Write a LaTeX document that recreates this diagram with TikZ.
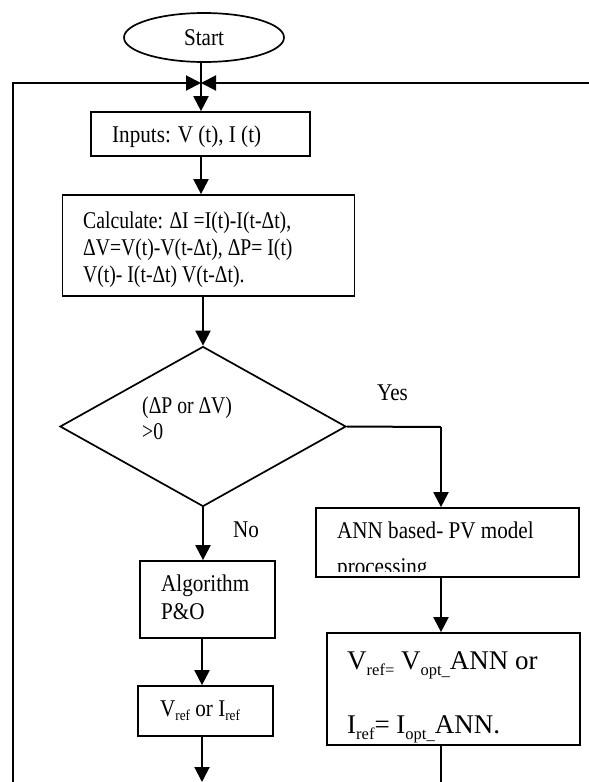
\documentclass[tikz,border=0pt]{standalone}
\usepackage{fontspec}
\setmainfont{Liberation Serif}[FakeStretch=0.88]
\newfontfamily\wideserif{Liberation Serif}
\newfontfamily\narrowserif{Liberation Serif}[FakeStretch=0.82]
\usetikzlibrary{arrows.meta,shapes.geometric}
\newcommand{\ssub}[1]{\raisebox{-4pt}{\fontsize{15}{15}\selectfont #1}}
\newcommand{\bsub}[1]{\raisebox{-6pt}{\fontsize{16.5}{16.5}\selectfont #1}}
\begin{document}
\begin{tikzpicture}[x=1pt,y=-1pt,
  box/.style={draw, line width=1.7pt, inner sep=0pt, rectangle},
  txt/.style={anchor=base west, inner sep=0pt, font=\fontsize{24}{29}\selectfont},
  ntxt/.style={anchor=base west, inner sep=0pt, font=\narrowserif\fontsize{24}{29}\selectfont},
  bigtxt/.style={anchor=base west, inner sep=0pt, font=\wideserif\fontsize{27}{30}\selectfont},
  arr/.style={line width=2pt, -{Triangle[width=15pt,length=15pt]}},
  ln/.style={line width=2pt}]
\useasboundingbox (0,0) rectangle (589,782);

% shapes
\node[draw, ellipse, line width=1.7pt, minimum width=160pt, minimum height=49pt, inner sep=0pt,
      font=\fontsize{24}{29}\selectfont] (start) at (204,37.5) {Start};
\node[box, minimum width=219pt, minimum height=44pt] (inputs) at (200.5,134) {};
\node[box, minimum width=292pt, minimum height=101pt] (calc) at (208.5,245.5) {};
\node[draw, diamond, line width=1.7pt, minimum width=286pt, minimum height=160pt, inner sep=0pt] (dec) at (203,426.5) {};
\node[box, minimum width=263pt, minimum height=69pt] (ann) at (447.5,542.5) {};
\node[box, minimum width=135pt, minimum height=77pt] (algo) at (207.5,599.5) {};
\node[box, minimum width=135pt, minimum height=50pt] (vref) at (205.5,711) {};
\node[box, minimum width=253pt, minimum height=112pt] (vopt) at (453.5,689) {};

% texts
\node[txt] (tin) at (112,142) {Inputs: V (t), I (t)};
\node[ntxt] (tc1) at (83,228) {Calculate: ΔI =I(t)-I(t-Δt),};
\node[ntxt] (tc2) at (83,255) {ΔV=V(t)-V(t-Δt), ΔP= I(t)};
\node[ntxt] (tc3) at (83,282) {V(t)- I(t-Δt) V(t-Δt).};
\node[ntxt] (td1) at (142,413) {(ΔP or ΔV)};
\node[ntxt] (td2) at (142,439) {>0};
\node[txt] (tyes) at (377,400) {Yes};
\node[txt] (tno) at (233,537) {No};
\node[txt] (ta1) at (337,538) {ANN based- PV model};
\begin{scope}
\clip (316,508) rectangle (579,571);
\node[txt] (ta2) at (337,574) {processing};
\end{scope}
\node[txt] (tal1) at (161,591) {Algorithm};
\node[txt] (tal2) at (161,619) {P\&O};
\node[txt] (tvr) at (160,716) {V\ssub{ref} or I\ssub{ref}};
\node[bigtxt] (tv1) at (347,669) {V\bsub{ref=} V\bsub{opt\_}ANN or};
\node[bigtxt] (tv2) at (347,733) {I\bsub{ref}= I\bsub{opt\_}ANN.};

% connectors
\coordinate (junc) at (201,83);
\coordinate (lbot) at (12.5,782);
\coordinate (rend) at (590,83);
\coordinate (ybend) at (441,427);
\coordinate (pobot) at (202,782);
\coordinate (vbot) at (441,782);

\draw[arr] (start.south -| junc) -- (inputs.north -| junc);
\draw[arr] (lbot) |- (junc);
\draw[arr] (rend) -- (junc);
\draw[arr] (inputs.south -| junc) -- (calc.north -| junc);
\draw[arr] (calc.south -| dec.north) -- (dec.north);
\draw[ln] (dec.east) -- (ybend);
\draw[arr] (ybend) -- (ann.north -| ybend);
\draw[arr] (dec.south) -- (algo.north -| dec.south);
\draw[arr] (ann.south -| ybend) -- (vopt.north -| ybend);
\draw[arr] (algo.south -| pobot) -- (vref.north -| pobot);
\draw[arr] (vref.south -| pobot) -- (pobot);
\draw[ln] (vopt.south -| vbot) -- (vbot);
\end{tikzpicture}
\end{document}
